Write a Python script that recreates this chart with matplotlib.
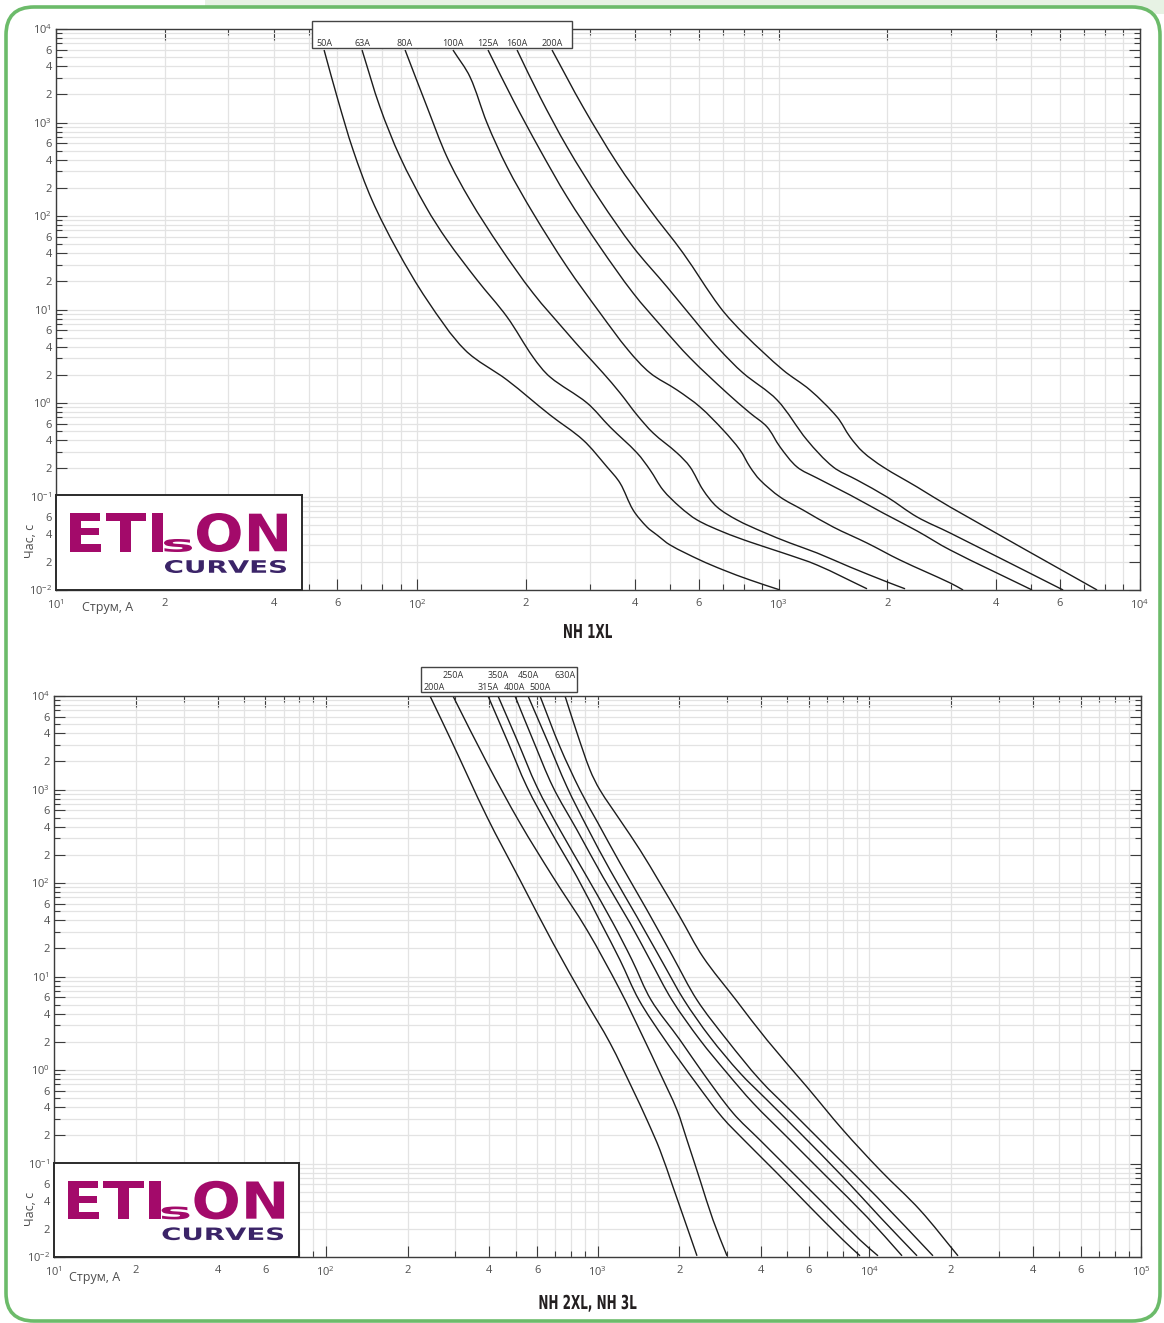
import numpy as np
import matplotlib
matplotlib.use("Agg")
import matplotlib.pyplot as plt
import matplotlib.transforms as mtransforms
from matplotlib.patches import FancyBboxPatch, Rectangle, PathPatch
from matplotlib.path import Path
from matplotlib.textpath import TextPath
from matplotlib.font_manager import FontProperties

plt.rcParams['font.family'] = ['Open Sans', 'DejaVu Sans']
plt.rcParams['mathtext.fontset'] = 'custom'
plt.rcParams['mathtext.rm'] = 'Open Sans'
plt.rcParams['mathtext.default'] = 'regular'

# ---- NH 1XL: current (A) / time (s) ----
names_1 = ["50A", "63A", "80A", "100A", "125A", "160A", "200A"]
cur_50 = [55.2, 60.3, 66.4, 74.9, 87.9, 106.4, 135.5, 177.2, 233, 287.5, 335, 364, 395.5, 432, 460.8, 500.7, 606, 702, 833, 1009]
time_50 = [5960, 1740, 508, 148.3, 43.3, 12.64, 3.69, 1.76, 0.744, 0.402, 0.207, 0.139, 0.0717, 0.0472, 0.0387, 0.0303, 0.0209, 0.0164, 0.0128, 0.0100]
cur_63 = [70.3, 78.8, 89.6, 105.7, 120.8, 146.3, 177.2, 209, 233, 295, 341.5, 405.6, 440.8, 478.6, 533.4, 594.8, 702, 833, 1028.5, 1277, 1756]
time_63 = [5960, 1465, 427.6, 124.8, 55.4, 20.7, 8.31, 3.10, 1.897, 1.0, 0.554, 0.292, 0.192, 0.1174, 0.0772, 0.0561, 0.0417, 0.0326, 0.0249, 0.0185, 0.0103]
cur_80 = [92.5, 106.4, 120.8, 139.9, 169.4, 209, 259.7, 285.7, 326.6, 364, 405.6, 449.3, 523.3, 568.6, 617.8, 675.4, 767.2, 905.4, 1075.5, 1277, 1576, 1995, 2238]
time_80 = [5960, 1465, 427.6, 148.3, 46.6, 15.0, 5.61, 3.69, 2.094, 1.279, 0.744, 0.478, 0.292, 0.207, 0.1174, 0.0772, 0.0561, 0.0417, 0.0318, 0.0249, 0.0176, 0.0122, 0.0103]
cur_100 = [125.5, 139.9, 155.9, 177.2, 209, 259.7, 320.4, 383, 440.8, 523.3, 606, 702, 781.9, 833, 888.2, 1009, 1168, 1415, 1756, 2168, 2982, 3239]
time_100 = [5960, 3068, 988, 334, 107.7, 28.5, 9.18, 3.69, 2.094, 1.377, 0.906, 0.514, 0.314, 0.207, 0.150, 0.0988, 0.0717, 0.0472, 0.0318, 0.0209, 0.0119, 0.0100]
cur_125 = [156.9, 184.1, 218.6, 259.7, 320.4, 395.5, 475.6, 568.6, 719.6, 833, 929, 1009, 1124, 1277, 1576, 1945, 2416, 2982, 5027]
time_125 = [5960, 1740, 508, 159.7, 46.6, 15.0, 6.50, 3.03, 1.279, 0.782, 0.554, 0.3385, 0.207, 0.1577, 0.1038, 0.0666, 0.0428, 0.0268, 0.0100]
cur_160 = [188.8, 218.6, 259.7, 320.4, 395.5, 491.2, 606, 688, 797, 990, 1198, 1415, 1648, 1995, 2416, 2982, 6127]
time_160 = [5960, 1874, 547, 148.3, 46.6, 17.4, 6.50, 3.69, 2.094, 1.077, 0.402, 0.207, 0.150, 0.0988, 0.0604, 0.0407, 0.0100]
cur_200 = [235.9, 287.5, 357, 440.8, 543.7, 688, 807.5, 1028.5, 1221, 1451, 1576, 1712, 1945, 2416, 2982, 7608]
time_200 = [5960, 1465, 368.8, 115.9, 40.2, 10.6, 5.34, 2.25, 1.377, 0.708, 0.433, 0.299, 0.207, 0.1264, 0.0772, 0.0100]

# ---- NH 2XL, NH 3L ----
names_2 = ["200A", "250A", "315A", "350A", "400A", "450A", "500A", "630A"]
cur_b200 = [241.9, 289, 392.2, 518.5, 685.8, 899.5, 1112, 1351, 1521, 1698, 1896, 2135, 2323]
time_b200 = [10000, 3384, 508, 107.7, 22.8, 5.61, 1.944, 0.611, 0.292, 0.139, 0.0561, 0.0209, 0.0103]
cur_b250 = [293.9, 392.2, 518.5, 685.8, 915, 1210, 1471, 1698, 1961, 2135, 2384, 2661, 2996]
time_b250 = [10000, 1920, 438, 115.9, 31.4, 7.17, 2.25, 0.929, 0.373, 0.178, 0.0666, 0.0249, 0.0103]
cur_b315 = [395.5, 464.5, 550.4, 668.8, 840.6, 1030, 1210, 1421, 1772, 2304, 2872, 3549, 4576, 6053, 8008, 9248]
time_b315 = [10000, 3384, 1063, 368.8, 115.9, 37.3, 15.0, 5.61, 2.094, 0.726, 0.314, 0.1656, 0.0791, 0.0343, 0.0152, 0.0103]
cur_b350 = [430.4, 505.6, 599, 727.8, 915, 1140, 1340, 1574, 2012, 2444, 3152, 3963, 5241, 6990, 9248, 10770]
time_b350 = [10000, 3384, 1063, 368.8, 115.9, 37.3, 15.0, 5.61, 2.094, 0.929, 0.347, 0.178, 0.0791, 0.0343, 0.0152, 0.0103]
cur_b400 = [497, 578.9, 685.8, 840.6, 1047.6, 1317, 1561, 1879, 2384, 2996, 3735, 4982, 6990, 9810, 13200]
time_b400 = [10000, 3384, 1063, 368.8, 115.9, 37.3, 15.0, 5.61, 2.094, 0.929, 0.444, 0.192, 0.0717, 0.0268, 0.0103]
cur_b450 = [555.1, 652, 772.4, 915, 1112, 1398, 1742, 2081, 2594, 3345, 4205, 5563, 8008, 10950, 14990]
time_b450 = [10000, 3384, 1063, 397, 137.7, 43.3, 13.9, 5.61, 2.25, 0.929, 0.478, 0.212, 0.0717, 0.0268, 0.0103]
cur_b500 = [614.3, 727.8, 862, 1004, 1210, 1521, 1896, 2323, 2996, 3963, 5241, 7355, 10680, 17160]
time_b500 = [10000, 2848, 988, 438, 163.7, 51.4, 16.2, 5.61, 2.094, 0.782, 0.347, 0.1295, 0.0438, 0.0103]
cur_b630 = [759.4, 840.6, 938.5, 1021, 1210, 1434, 1698, 2012, 2444, 3233, 4205, 5901, 8008, 10950, 15370, 21210]
time_b630 = [10000, 4021, 1617, 988, 472, 225.4, 100, 43.3, 16.2, 5.61, 2.094, 0.658, 0.228, 0.0852, 0.0318, 0.0103]

curves_1 = [(cur_50, time_50), (cur_63, time_63), (cur_80, time_80), (cur_100, time_100),
            (cur_125, time_125), (cur_160, time_160), (cur_200, time_200)]
curves_2 = [(cur_b200, time_b200), (cur_b250, time_b250), (cur_b315, time_b315), (cur_b350, time_b350),
            (cur_b400, time_b400), (cur_b450, time_b450), (cur_b500, time_b500), (cur_b630, time_b630)]

W, H = 1164, 1323
fig = plt.figure(figsize=(W / 100, H / 100), dpi=100)


def px_rect(x0, y0, x1, y1):
    return [x0 / W, 1 - y1 / H, (x1 - x0) / W, (y1 - y0) / H]


# green rounded frame
bg = fig.add_axes([0, 0, 1, 1], zorder=-5)
bg.set_xlim(0, W)
bg.set_ylim(H, 0)
bg.axis('off')
bg.add_patch(Rectangle((205, 0), W - 205, 14, fc='#e7f2e4', ec='none'))
bg.add_patch(FancyBboxPatch((6, 7), 1154, 1314, boxstyle='round,pad=0,rounding_size=28',
                            fc='white', ec='#6cbb6a', lw=2.6))


def decade_ticks(lo, hi):
    major, minor, labels = [], [], []
    for e in range(lo, hi + 1):
        major.append(10.0 ** e)
        labels.append('$10^{%d}$' % e)
        if e == hi:
            break
        for m in range(2, 10):
            if m in (2, 4, 6):
                major.append(m * 10.0 ** e)
                labels.append(str(m))
            else:
                minor.append(m * 10.0 ** e)
    return major, minor, labels


def setup_axes(ax, xlo, xhi):
    ax.set_xscale('log')
    ax.set_yscale('log')
    ax.set_xlim(10.0 ** xlo, 10.0 ** xhi)
    ax.set_ylim(1e-2, 1e4)
    mj, mn, lb = decade_ticks(xlo, xhi)
    ax.set_xticks(mj, labels=lb)
    ax.set_xticks(mn, minor=True)
    ax.xaxis.set_minor_formatter(plt.NullFormatter())
    mj, mn, lb = decade_ticks(-2, 4)
    ax.set_yticks(mj, labels=lb)
    ax.set_yticks(mn, minor=True)
    ax.yaxis.set_minor_formatter(plt.NullFormatter())
    ax.grid(True, which='both', color='#e3e3e3', lw=0.9)
    ax.set_axisbelow(True)
    ax.tick_params(which='both', direction='in', top=True, right=True, color='#3c3c3c',
                   width=0.8, labelsize=8, labelcolor='#505050')
    ax.tick_params(which='major', length=8)
    ax.tick_params(which='minor', length=4)
    ax.tick_params(axis='x', pad=6)
    ax.tick_params(axis='y', pad=3)
    for s in ax.spines.values():
        s.set_color('#3c3c3c')
        s.set_linewidth(1.0)


def smooth_curve(ax, cur, tim, px_dec_x, px_dec_y):
    # cubic Bezier path through the read points (tangents from chord lengths in log space)
    p = np.column_stack([np.log10(cur), np.log10(tim)])
    seg = np.hypot(np.diff(p[:, 0]) * px_dec_x, np.diff(p[:, 1]) * px_dec_y)
    s = np.concatenate([[0], np.cumsum(seg)])
    n = len(p)
    m = np.zeros_like(p)
    for i in range(n):
        a, b = max(i - 1, 0), min(i + 1, n - 1)
        m[i] = (p[b] - p[a]) / (s[b] - s[a])
    verts, codes = [p[0]], [Path.MOVETO]
    for i in range(n - 1):
        d = seg[i] / 3
        verts += [p[i] + m[i] * d, p[i + 1] - m[i + 1] * d, p[i + 1]]
        codes += [Path.CURVE4] * 3
    ax.add_patch(PathPatch(Path(10 ** np.array(verts), codes), fill=False,
                           ec='#1c1c1c', lw=1.0))


def fit_text(ax, s, x0, y0, x1, y1, color):
    tp = TextPath((0, 0), s, size=10, prop=FontProperties(family='DejaVu Sans', weight='bold'))
    bb = tp.get_extents()
    tr = mtransforms.Affine2D().translate(-bb.x0, -bb.y0) \
        .scale((x1 - x0) / bb.width, -(y1 - y0) / bb.height).translate(x0, y1)
    ax.add_patch(PathPatch(tr.transform_path(tp), fc=color, ec='none'))


def draw_title(s, xc, baseline, cap_h, width):
    fp = FontProperties(family='DejaVu Sans', weight='bold')
    tp = TextPath((0, 0), s, size=10, prop=fp)
    hb = TextPath((0, 0), 'H', size=10, prop=fp).get_extents()
    bb = tp.get_extents()
    tr = mtransforms.Affine2D().translate(-(bb.x0 + bb.width / 2), 0) \
        .scale(width / bb.width, -cap_h / hb.height).translate(xc, baseline)
    bg.add_patch(PathPatch(tr.transform_path(tp), fc='#231f20', ec='none'))


def draw_logo(rect):
    lg = fig.add_axes(rect, zorder=4)
    lg.set_xlim(0, 246)
    lg.set_ylim(95, 0)
    lg.set_xticks([])
    lg.set_yticks([])
    for s in lg.spines.values():
        s.set_color('#2b2b2b')
        s.set_linewidth(1.4)
    fit_text(lg, 'ETI', 14, 18, 107, 57, '#a30a6a')
    fit_text(lg, 's', 108, 44, 136, 57, '#a30a6a')
    fit_text(lg, 'ON', 141, 18, 231, 57, '#a30a6a')
    fit_text(lg, 'CURVES', 109, 65, 230, 78, '#3b2468')


# ---------------- NH 1XL ----------------
ax1 = fig.add_axes(px_rect(56, 29, 1140, 590))
setup_axes(ax1, 1, 4)
for c, t in curves_1:
    smooth_curve(ax1, c, t, 361.3, 93.5)
ax1.add_patch(Rectangle((0.2362, 0.9661), 0.2398, 0.0482, transform=ax1.transAxes,
                        fc='white', ec='#444444', lw=1.0, clip_on=False, zorder=5))
tr1 = mtransforms.blended_transform_factory(ax1.transData, ax1.transAxes)
for (c, t), nm in zip(curves_1, names_1):
    ax1.text(c[0], 0.975, nm, transform=tr1, ha='center', va='center', fontsize=6.5,
             color='#333333', zorder=6, clip_on=False)
draw_logo(px_rect(56, 495, 302, 590))
fig.text(82 / W, 1 - 608 / H, 'Струм, А', ha='left', va='center', fontsize=9, color='#4d4d4d')
fig.text(31 / W, 1 - 541 / H, 'Час, с', rotation=90, ha='center', va='center', fontsize=9, color='#4d4d4d')
draw_title('NH 1XL', 588, 638, 14, 48)

# ---------------- NH 2XL, NH 3L ----------------
ax2 = fig.add_axes(px_rect(54, 696, 1141, 1257))
setup_axes(ax2, 1, 5)
for c, t in curves_2:
    smooth_curve(ax2, c, t, 271.75, 93.5)
box2 = (0.3376, 1.0071, 0.1435, 0.0446)
ax2.add_patch(Rectangle(box2[:2], box2[2], box2[3], transform=ax2.transAxes,
                        fc='white', ec='#444444', lw=1.0, clip_on=False, zorder=5))
tr2 = mtransforms.blended_transform_factory(ax2.transData, ax2.transAxes)
for i, ((c, t), nm) in enumerate(zip(curves_2, names_2)):
    yy = 1.0357 if i % 2 else 1.0143
    if i == 0:
        ax2.text(box2[0] + 0.002, yy, nm, transform=ax2.transAxes, ha='left', va='center',
                 fontsize=6.5, color='#333333', zorder=6, clip_on=False)
    else:
        ax2.text(c[0], yy, nm, transform=tr2, ha='center', va='center',
                 fontsize=6.5, color='#333333', zorder=6, clip_on=False)
draw_logo(px_rect(54, 1163, 299, 1257))
fig.text(69 / W, 1 - 1277 / H, 'Струм, А', ha='left', va='center', fontsize=9, color='#4d4d4d')
fig.text(31 / W, 1 - 1209 / H, 'Час, с', rotation=90, ha='center', va='center', fontsize=9, color='#4d4d4d')
draw_title('NH 2XL, NH 3L', 588, 1309, 14, 97)

fig.savefig('out.png', dpi=100)
